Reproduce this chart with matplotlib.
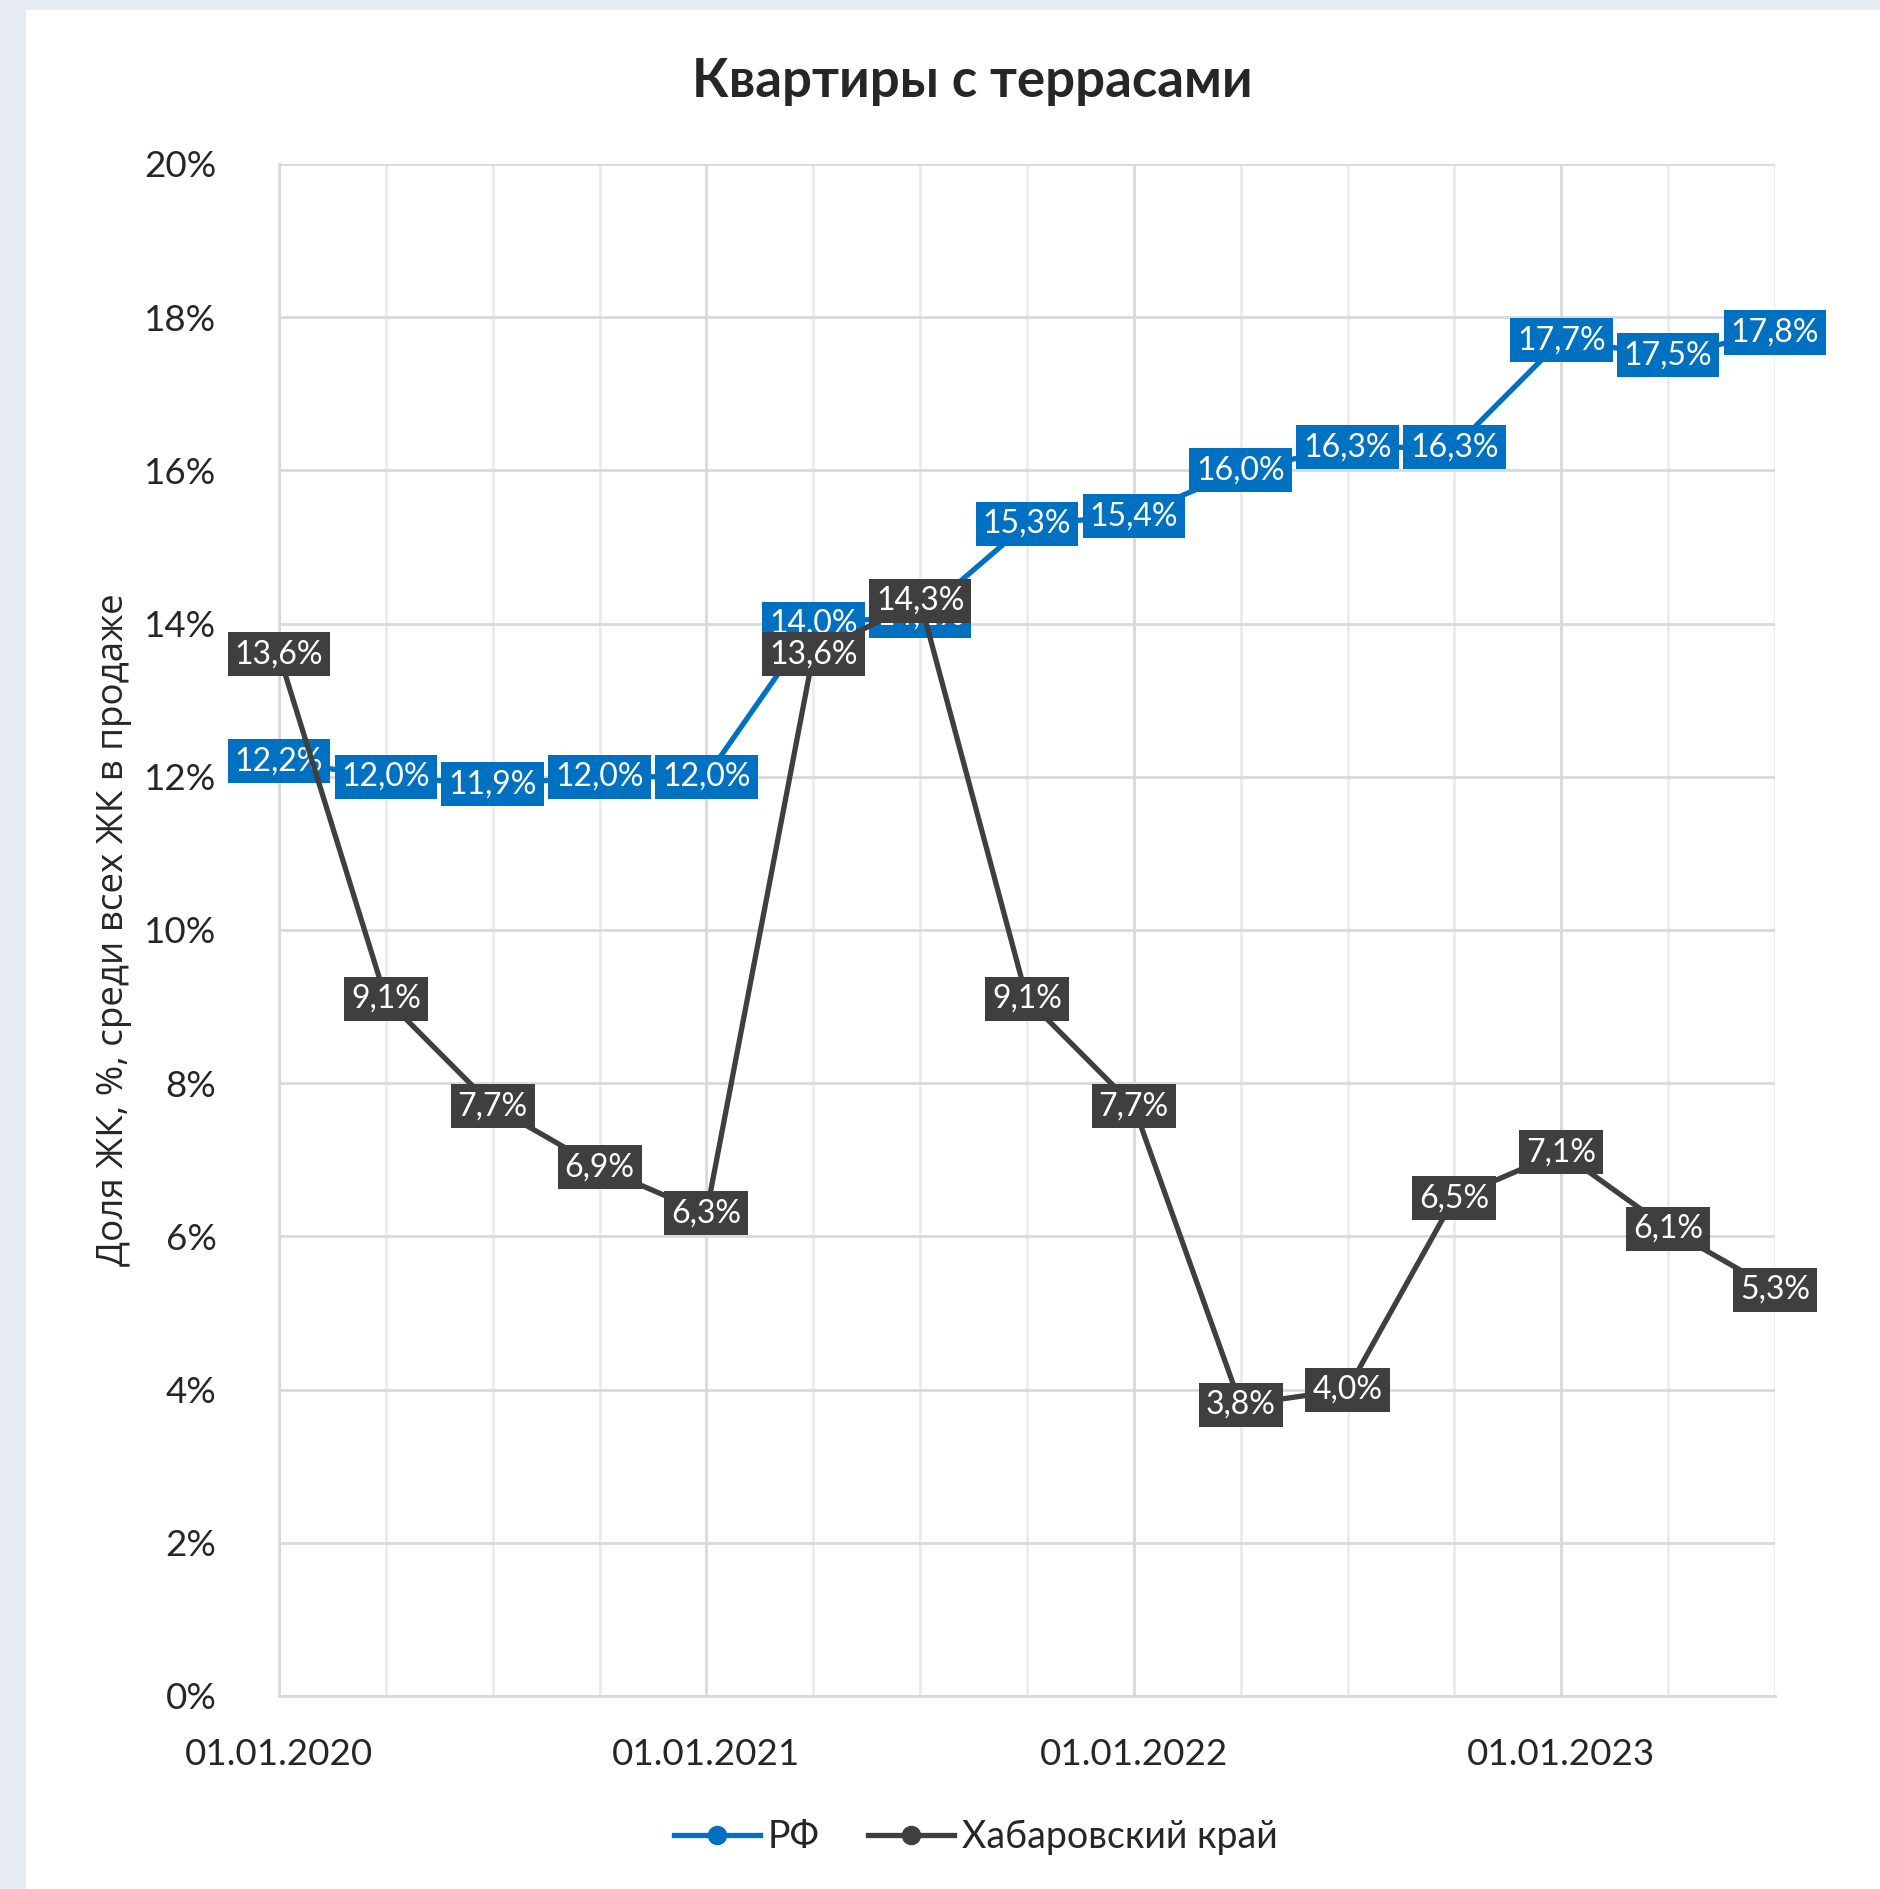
import matplotlib.pyplot as plt
from matplotlib.patches import Rectangle
import numpy as np

dates = ['01.01.2020', '01.04.2020', '01.07.2020', '01.10.2020',
         '01.01.2021', '01.04.2021', '01.07.2021', '01.10.2021',
         '01.01.2022', '01.04.2022', '01.07.2022', '01.10.2022',
         '01.01.2023', '01.04.2023', '01.07.2023']
rf = [12.2, 12.0, 11.9, 12.0, 12.0, 14.0, 14.1, 15.3, 15.4, 16.0, 16.3, 16.3, 17.7, 17.5, 17.8]
khab = [13.6, 9.1, 7.7, 6.9, 6.3, 13.6, 14.3, 9.1, 7.7, 3.8, 4.0, 6.5, 7.1, 6.1, 5.3]

blue = '#0070C0'
dark = '#3F3F3F'

plt.rcParams['font.family'] = ['Lato', 'DejaVu Sans']

fig = plt.figure(figsize=(18.8, 18.89), dpi=100, facecolor='#E7EBF3')
fig.patches.append(Rectangle((26 / 1880, 0), 1, 1 - 10 / 1889, transform=fig.transFigure,
                             facecolor='white', edgecolor='none', zorder=-5))
ax = fig.add_axes([0.1484, 0.1022, 0.7957, 0.811])
ax.set_facecolor('none')

x = np.arange(len(dates))

ax.plot(x, rf, color=blue, lw=3.8, marker='o', ms=10, zorder=3, label='РФ')
for xi, v in zip(x, rf):
    ax.text(xi, v, f'{v:.1f}%'.replace('.', ','), ha='center', va='center', color='white',
            fontsize=23, zorder=4,
            bbox=dict(boxstyle='square,pad=0.22', fc=blue, ec='none'))

ax.plot(x, khab, color=dark, lw=3.8, marker='o', ms=10, zorder=5, label='Хабаровский край')
for xi, v in zip(x, khab):
    ax.text(xi, v, f'{v:.1f}%'.replace('.', ','), ha='center', va='center', color='white',
            fontsize=23, zorder=6,
            bbox=dict(boxstyle='square,pad=0.22', fc=dark, ec='none'))

ax.set_xlim(0, len(dates) - 1)
ax.set_ylim(0, 20)
ax.set_yticks(np.arange(0, 21, 2))
ax.set_yticklabels([f'{v}%' for v in range(0, 21, 2)])
ax.set_xticks(x[::4])
ax.set_xticklabels(dates[::4])
ax.set_xticks(x, minor=True)

ax.grid(axis='y', color='#D9D9D9', lw=2)
ax.grid(axis='x', which='minor', color='#EBEBEB', lw=2)
ax.grid(axis='x', which='major', color='#D9D9D9', lw=2)
ax.set_axisbelow(True)
ax.tick_params(axis='both', which='both', length=0, labelsize=26.5, colors='#262626')
ax.tick_params(axis='x', pad=30)
ax.tick_params(axis='y', pad=45)
for s in ['top', 'right']:
    ax.spines[s].set_visible(False)
for s in ['left', 'bottom']:
    ax.spines[s].set_color('#D9D9D9')
    ax.spines[s].set_linewidth(2)

ax.set_ylabel('Доля ЖК, %, среди всех ЖК в продаже', fontsize=26.5, color='#262626',
              family=['Open Sans', 'DejaVu Sans'])
ax.yaxis.set_label_coords(-0.098, 0.5)

fig.text(0.517, 1 - 82 / 1889, 'Квартиры с террасами', ha='center', va='center',
         fontsize=38, fontweight='bold', color='#262626')

fig.legend(loc='center', bbox_to_anchor=(0.519, 1 - 1837 / 1889), ncol=2, frameon=False,
           fontsize=27, handlelength=2.3, columnspacing=1.3, handletextpad=0.2,
           labelcolor='#262626', markerscale=1.3)

fig.savefig('out.png', dpi=100, facecolor=fig.get_facecolor())
